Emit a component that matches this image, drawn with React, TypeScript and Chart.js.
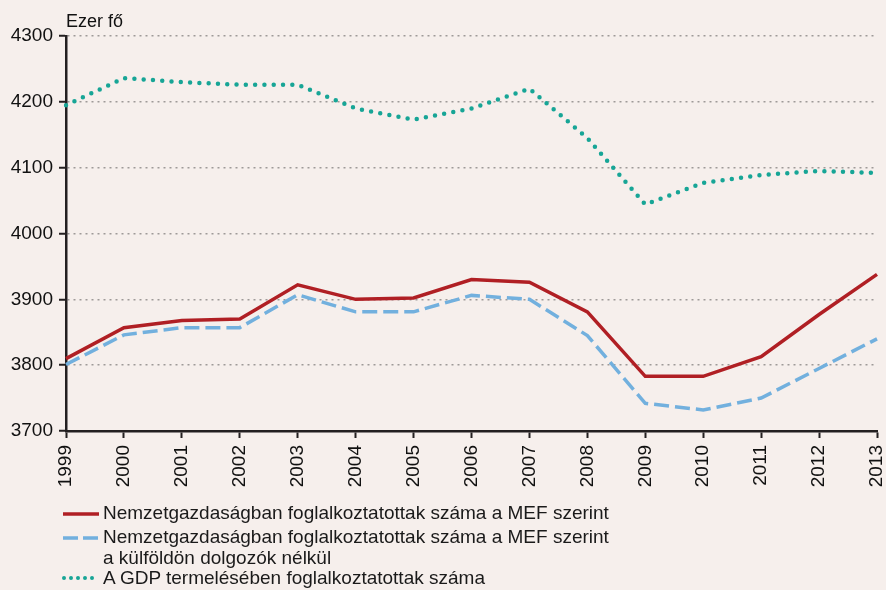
import React, { useEffect, useRef } from "react";
import { Chart, registerables } from "chart.js";

Chart.register(...registerables);

const years = ["1999", "2000", "2001", "2002", "2003", "2004", "2005", "2006", "2007", "2008", "2009", "2010", "2011", "2012", "2013"];
const mefValues = [3810, 3857, 3868, 3870, 3922, 3900, 3902, 3930, 3926, 3881, 3783, 3783, 3813, 3877, 3938];
const mefNoAbroadValues = [3801, 3846, 3857, 3857, 3907, 3881, 3881, 3906, 3900, 3845, 3742, 3732, 3750, 3795, 3840];
const gdpValues = [4195, 4236, 4230, 4226, 4226, 4190, 4173, 4190, 4220, 4145, 4044, 4077, 4089, 4095, 4092];
const yMin = 3700;
const yMax = 4300;
const yStep = 100;

const unitLabel = "Ezer fő";
const legendMef = "Nemzetgazdaságban foglalkoztatottak száma a MEF szerint";
const legendNoAbroad1 = "Nemzetgazdaságban foglalkoztatottak száma a MEF szerint";
const legendNoAbroad2 = "a külföldön dolgozók nélkül";
const legendGdp = "A GDP termelésében foglalkoztatottak száma";

const RED = "#B01F24";
const BLUE = "#72B0DE";
const GREEN = "#17A596";
const BG = "#F6EFEC";
const FONT = "'Liberation Sans', Arial, sans-serif";

export default function App() {
  const ref = useRef<HTMLCanvasElement | null>(null);

  useEffect(() => {
    if (!ref.current) return;
    const chart = new Chart(ref.current, {
      type: "line",
      data: {
        labels: years,
        datasets: [
          {
            label: legendGdp,
            data: gdpValues,
            borderColor: GREEN,
            borderWidth: 4.5,
            borderDash: [0, 9.3],
            borderCapStyle: "round",
            pointRadius: 0,
            tension: 0,
            fill: false,
          },
          {
            label: legendNoAbroad1,
            data: mefNoAbroadValues,
            borderColor: BLUE,
            borderWidth: 3.5,
            borderDash: [15, 6],
            pointRadius: 0,
            tension: 0,
            fill: false,
          },
          {
            label: legendMef,
            data: mefValues,
            borderColor: RED,
            borderWidth: 3.5,
            pointRadius: 0,
            tension: 0,
            fill: false,
          },
        ],
      },
      options: {
        responsive: false,
        animation: false,
        layout: { padding: { top: 36, right: 9, left: 0, bottom: 0 } },
        plugins: { legend: { display: false }, tooltip: { enabled: false } },
        scales: {
          x: {
            offset: false,
            grid: {
              drawOnChartArea: false,
              drawTicks: true,
              tickLength: 7,
              tickColor: "#231F20",
              tickWidth: 2,
            },
            border: { display: true, color: "#231F20", width: 2.5 },
            ticks: {
              color: "#111",
              font: { family: FONT, size: 19 },
              minRotation: 90,
              maxRotation: 90,
              padding: 7,
              autoSkip: false,
            },
            afterFit: (s: any) => {
              s.height = 69;
              s.paddingLeft = 0;
              s.paddingRight = 0;
            },
          },
          y: {
            min: yMin,
            max: yMax,
            grid: {
              color: "#9E9A98",
              lineWidth: 1.5,
              drawTicks: true,
              tickLength: 7,
              tickColor: "#231F20",
              tickWidth: 2,
              tickBorderDash: [],
            },
            border: { display: true, color: "#231F20", width: 2.5, dash: [2, 4] },
            ticks: {
              stepSize: yStep,
              color: "#111",
              font: { family: FONT, size: 19 },
              padding: 6,
              callback: (v: any) => String(v),
            },
            afterFit: (s: any) => {
              s.width = 66;
            },
          },
        },
      },
    });
    return () => chart.destroy();
  }, []);

  const textStyle: React.CSSProperties = {
    position: "absolute",
    left: 103,
    fontFamily: FONT,
    fontSize: 19,
    color: "#1a1a1a",
    whiteSpace: "nowrap",
    lineHeight: "20px",
  };

  return (
    <div style={{ position: "fixed", left: 0, top: 0, width: 886, height: 590, background: BG, overflow: "hidden" }}>
      <canvas ref={ref} width={886} height={500} style={{ position: "absolute", left: 0, top: 0, width: 886, height: 500 }} />
      <div style={{ position: "absolute", left: 66, top: 11, fontFamily: FONT, fontSize: 18, color: "#111", lineHeight: "20px" }}>{unitLabel}</div>
      <svg width={886} height={590} style={{ position: "absolute", left: 0, top: 0, pointerEvents: "none" }}>
        <line x1={63} y1={514} x2={99} y2={514} stroke={RED} strokeWidth={3.5} />
        <line x1={63} y1={538} x2={99} y2={538} stroke={BLUE} strokeWidth={3.5} strokeDasharray="15 5" />
        <line x1={64} y1={578} x2={99} y2={578} stroke={GREEN} strokeWidth={4} strokeDasharray="0 7" strokeLinecap="round" />
      </svg>
      <div style={{ ...textStyle, top: 503 }}>{legendMef}</div>
      <div style={{ ...textStyle, top: 527 }}>{legendNoAbroad1}</div>
      <div style={{ ...textStyle, top: 548 }}>{legendNoAbroad2}</div>
      <div style={{ ...textStyle, top: 568 }}>{legendGdp}</div>
    </div>
  );
}
